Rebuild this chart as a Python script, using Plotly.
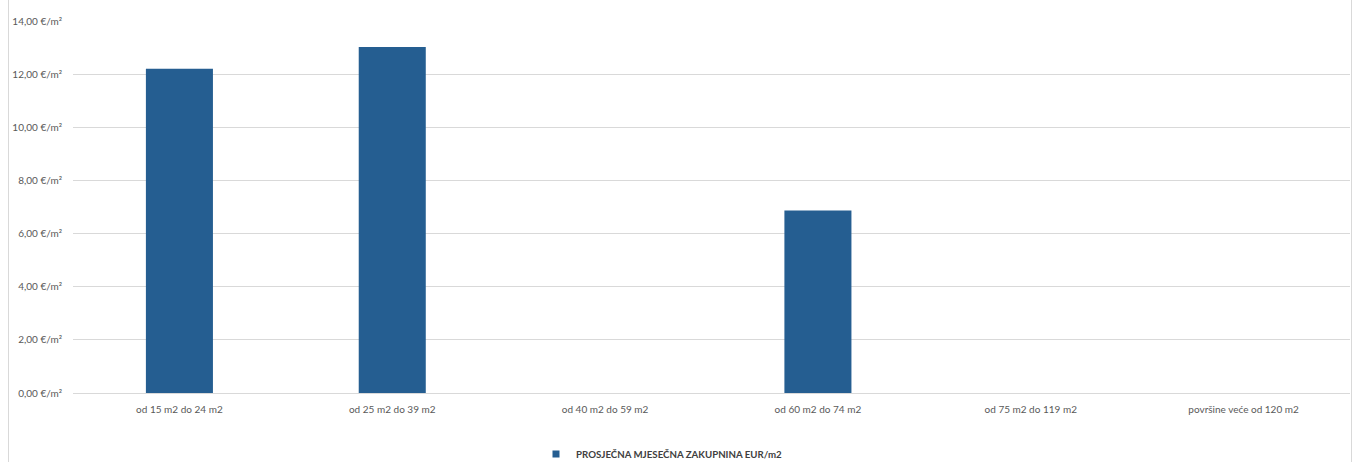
import plotly.graph_objects as go

categories = ["od 15 m2 do 24 m2", "od 25 m2 do 39 m2", "od 40 m2 do 59 m2",
              "od 60 m2 do 74 m2", "od 75 m2 do 119 m2", "površine veće od 120 m2"]
values = [12.2, 13.02, None, 6.87, None, None]
series_name = "PROSJEČNA MJESEČNA ZAKUPNINA EUR/m2"
tick_vals = [0, 2, 4, 6, 8, 10, 12, 14]
tick_text = ["0,00 €/m²", "2,00 €/m²", "4,00 €/m²", "6,00 €/m²",
             "8,00 €/m²", "10,00 €/m²", "12,00 €/m²", "14,00 €/m²"]

W, H = 1354, 462
L, R, T, B = 73, 4, 21, 69
pw = W - L - R
ph = H - T - B
bar_color = "#255e91"

fig = go.Figure()
fig.add_trace(go.Bar(x=categories, y=values, name=series_name,
                     marker=dict(color=bar_color, line=dict(width=0)),
                     showlegend=False))
# legend entry with a small square swatch
fig.add_trace(go.Scatter(x=[None], y=[None], mode="markers", name="<b>" + series_name + "</b>",
                         marker=dict(symbol="square", size=7, color=bar_color),
                         showlegend=True))

fig.update_layout(
    width=W, height=H,
    margin=dict(l=L, r=R, t=T, b=B, autoexpand=False),
    paper_bgcolor="white", plot_bgcolor="white",
    font=dict(family="Lato, Liberation Sans, sans-serif", size=10, color="#595959"),
    bargap=0.685,
    showlegend=True,
    legend=dict(orientation="h", x=(662 - L) / pw, xanchor="center",
                y=(393 - 454) / ph, yanchor="middle",
                font=dict(size=9.7, color="#404040", family="Lato, sans-serif"),
                itemwidth=30, traceorder="normal"),
    xaxis=dict(showgrid=False, showline=False, ticks="", tickfont=dict(size=10, color="#595959"),
               ticklabelstandoff=9),
    yaxis=dict(range=[0, 14], tickvals=tick_vals, ticktext=tick_text,
               gridcolor="#d9d9d9", gridwidth=1, zeroline=True, zerolinecolor="#d9d9d9",
               zerolinewidth=1, showline=False, ticks="", ticklabelstandoff=10,
               tickfont=dict(size=10, color="#595959")),
    shapes=[
        dict(type="line", xref="paper", yref="paper",
             x0=(8.5 - L) / pw, x1=(8.5 - L) / pw, y0=-2, y1=2,
             line=dict(color="#d9d9d9", width=1)),
        dict(type="line", xref="paper", yref="paper",
             x0=(1351.5 - L) / pw, x1=(1351.5 - L) / pw, y0=-2, y1=2,
             line=dict(color="#d9d9d9", width=1)),
    ],
)

fig.write_html("out.html", config={"displayModeBar": False},
               post_script="document.body.style.margin='0';document.body.style.overflow='hidden';")
